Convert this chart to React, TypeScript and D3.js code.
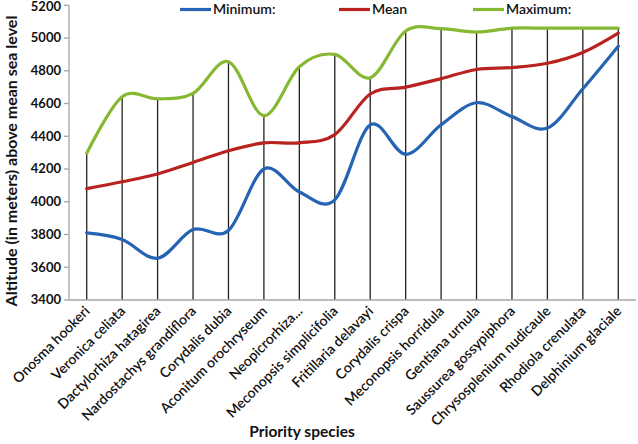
import React from "react";
import * as d3 from "d3";

const categories = [
  "Onosma hookeri",
  "Veronica celiata",
  "Dactylorhiza hatagirea",
  "Nardostachys grandiflora",
  "Corydalis dubia",
  "Aconitum orochryseum",
  "Neopicrorhiza...",
  "Meconopsis simplicifolia",
  "Fritillaria delavayi",
  "Corydalis crispa",
  "Meconopsis horridula",
  "Gentiana urnula",
  "Saussurea gossypiphora",
  "Chrysosplenium nudicaule",
  "Rhodiola crenulata",
  "Delphinium glaciale",
];

const minimum = [3810, 3770, 3655, 3830, 3825, 4200, 4060, 4012, 4470, 4290, 4470, 4605, 4520, 4450, 4690, 4950];
const mean = [4080, 4122, 4170, 4240, 4312, 4360, 4360, 4410, 4658, 4700, 4752, 4808, 4820, 4846, 4912, 5030];
const maximum = [4296, 4642, 4628, 4662, 4855, 4526, 4825, 4900, 4758, 5043, 5057, 5037, 5060, 5060, 5060, 5060];

const yTicks = [3400, 3600, 3800, 4000, 4200, 4400, 4600, 4800, 5000, 5200];

const seriesNames = ["Minimum:", "Mean", "Maximum:"];
const seriesColors = ["#2563b4", "#b8231f", "#86b832"];

export default function App() {
  const W = 638;
  const H = 444;
  const left = 69;
  const right = 636;
  const top = 5.3;
  const bottom = 300;

  const x = d3.scalePoint<string>().domain(categories).range([left, right]).padding(0.5);
  const y = d3.scaleLinear().domain([3400, 5200]).range([bottom, top]);

  const line = d3
    .line<number>()
    .x((_, i) => x(categories[i]) as number)
    .y((d) => y(d))
    .curve(d3.curveCardinal.tension(0));

  const series = [minimum, mean, maximum];
  const font = "Lato, 'Open Sans', sans-serif";
  const legendX = [180, 339, 473];

  return (
    <svg
      width={W}
      height={H}
      style={{ position: "absolute", left: 0, top: 0, background: "#fff" }}
      fontFamily={font}
    >
      {/* drop lines */}
      {categories.map((c, i) => (
        <line
          key={"d" + i}
          x1={x(c)}
          x2={x(c)}
          y1={y(maximum[i])}
          y2={y(3400)}
          stroke="#222"
          strokeWidth={1.3}
        />
      ))}
      {/* axes */}
      <line x1={left} x2={left} y1={top} y2={bottom} stroke="#a6a6a6" strokeWidth={1.3} />
      <line x1={left} x2={right} y1={bottom} y2={bottom} stroke="#a6a6a6" strokeWidth={1.3} />
      {yTicks.map((t) => (
        <g key={"t" + t}>
          <line x1={left - 5} x2={left} y1={y(t)} y2={y(t)} stroke="#a6a6a6" strokeWidth={1.3} />
          <text
            x={left - 8}
            y={Math.max(y(t), 7)}
            dy="0.33em"
            textAnchor="end"
            fontSize={13}
            fontWeight={700}
            fill="#111"
          >
            {t}
          </text>
        </g>
      ))}
      {/* series */}
      {series.map((s, k) => (
        <path key={"s" + k} d={line(s) as string} fill="none" stroke={seriesColors[k]} strokeWidth={3.2} strokeLinecap="round" />
      ))}
      {/* x labels */}
      {categories.map((c, i) => (
        <text
          key={"x" + i}
          transform={`translate(${(x(c) as number) + 4},${bottom + 12}) rotate(-45)`}
          textAnchor="end"
          fontSize={14}
          fontWeight={600}
          fill="#111"
        >
          {c}
        </text>
      ))}
      {/* legend */}
      {seriesNames.map((n, k) => (
        <g key={"l" + k}>
          <line x1={legendX[k]} x2={legendX[k] + 31} y1={9.5} y2={9.5} stroke={seriesColors[k]} strokeWidth={3.2} />
          <text x={legendX[k] + 33} y={9.5} dy="0.35em" fontSize={14} fontWeight={600} fill="#111">
            {n}
          </text>
        </g>
      ))}
      {/* axis titles */}
      <text x={302} y={437} textAnchor="middle" fontSize={15.5} fontWeight={700} fill="#111">
        Priority species
      </text>
      <text
        transform={`translate(17,161) rotate(-90)`}
        textAnchor="middle"
        fontSize={16}
        fontWeight={700}
        fill="#111"
      >
        Altitude (in meters) above mean sea level
      </text>
    </svg>
  );
}
